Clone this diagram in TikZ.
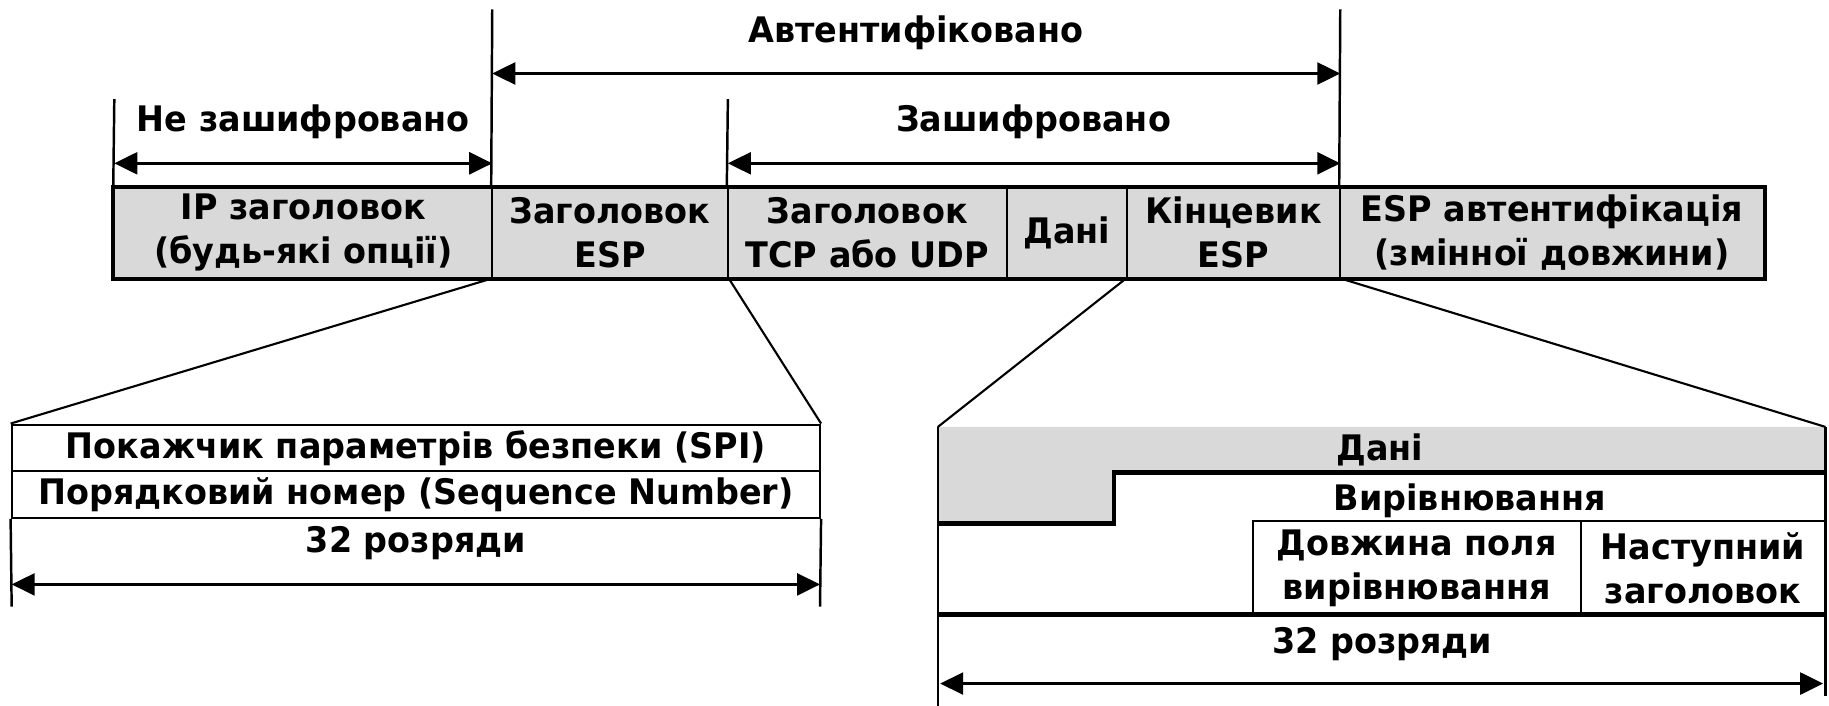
\documentclass[tikz,border=0pt]{standalone}
\usepackage{fontspec}
\setmainfont{DejaVu Sans}[FakeStretch=0.95]
\usetikzlibrary{arrows.meta}

\def\px{0.011665cm}
\definecolor{cellgray}{RGB}{217,217,217}
\tikzset{
  cell/.style={draw=black,line width=0.6pt,fill=cellgray,align=center,inner sep=0pt,minimum height=77*\px},
  box/.style={draw=black,line width=0.6pt,align=center,inner sep=0pt},
  lbl/.style={align=center,inner sep=0pt},
  span/.style={{Triangle[length=0.23cm,width=0.22cm]}-{Triangle[length=0.23cm,width=0.22cm]},line width=0.7pt},
  rule/.style={line width=0.7pt},
  zoomline/.style={line width=0.6pt},
  heavy/.style={line width=1.3pt},
}

\begin{document}
\begin{tikzpicture}[x=\px,y=-\px,font=\fontsize{10}{12.6}\selectfont\bfseries]
\useasboundingbox (0,0) rectangle (1568,605);

% packet
\node[cell,minimum width=324*\px] (ip) at (260,199.5) {IP заголовок\\(будь-які опції)};
\node[cell,minimum width=202*\px] (esph) at (523,199.5) {Заголовок\\ESP};
\node[cell,minimum width=239*\px] (tcp) at (743.5,199.5) {Заголовок\\TCP або UDP};
\node[cell,minimum width=103*\px] (data) at (914.5,199.5) {Дані};
\node[cell,minimum width=183*\px] (trail) at (1057.5,199.5) {Кінцевик\\ESP};
\node[cell,minimum width=363*\px] (auth) at (1330.5,199.5) {ESP автентифікація\\(змінної довжини)};
\draw[line width=1.2pt] (ip.north west) rectangle (auth.south east);

% spans above the packet
\coordinate (authtop) at (422,8);
\coordinate (authend) at (1149,8);
\coordinate (plaintop) at (98,85);
\coordinate (enctop) at (624,85);
\draw[rule] (authtop) -- (esph.north west);
\draw[rule] (authend) -- (auth.north west);
\draw[rule] (plaintop) -- (ip.north west);
\draw[rule] (enctop) -- (tcp.north west);

\node[lbl] (authlbl) at (785,28) {Автентифіковано};
\coordinate (authL) at (422,63);
\coordinate (authR) at (1149,63);
\draw[span] (authL) -- (authR);

\node[lbl] (plainlbl) at (260,104) {Не зашифровано};
\coordinate (plainL) at (98,140);
\coordinate (plainR) at (422,140);
\draw[span] (plainL) -- (plainR);

\node[lbl] (enclbl) at (886,104) {Зашифровано};
\coordinate (encL) at (624,140);
\coordinate (encR) at (1149,140);
\draw[span] (encL) -- (encR);

% ESP header detail
\node[box,minimum width=693*\px,minimum height=40*\px] (spi) at (356.5,384) {Покажчик параметрів безпеки (SPI)};
\node[box,minimum width=693*\px,minimum height=40*\px] (seq) at (356.5,424) {Порядковий номер (Sequence Number)};
\node[lbl] (bitsL) at (356.5,466) {32 розряди};
\coordinate (hdrLB) at (10,520);
\coordinate (hdrRB) at (703,520);
\draw[rule] (seq.south west) -- (hdrLB);
\draw[rule] (seq.south east) -- (hdrRB);
\coordinate (hdrL) at (10,501);
\coordinate (hdrR) at (703,501);
\draw[span] (hdrL) -- (hdrR);
\draw[zoomline] (esph.south west) -- (spi.north west);
\draw[zoomline] (esph.south east) -- (spi.north east);

% ESP trailer detail
\fill[cellgray] (804,366) -- (1565,366) -- (1565,405) -- (955,405) -- (955,449) -- (804,449) -- cycle;
\draw[heavy] (804,449) -- (955,449) -- (955,405) -- (1565,405);
\node[lbl] (pay) at (1183,386) {Дані};
\node[lbl] (pad) at (1260,429) {Вирівнювання};
\node[box,minimum width=281*\px,minimum height=80*\px] (padlen) at (1214.5,487) {Довжина поля\\вирівнювання};
\node[box,minimum width=210*\px,minimum height=80*\px] (nexth) at (1460,487) {Наступний\\заголовок};
\draw[heavy] (804,527) -- (1565,527);
\node[lbl] (bitsR) at (1185,552) {32 розряди};
\coordinate (trlTL) at (804,366);
\coordinate (trlTR) at (1565,366);
\coordinate (trlBL) at (804,605);
\coordinate (trlBR) at (1565,597);
\draw[rule] (trlTL) -- (trlBL);
\draw[rule] (trlTR) -- (trlBR);
\coordinate (trlL) at (806,586);
\coordinate (trlR) at (1563,586);
\draw[span] (trlL) -- (trlR);
\draw[zoomline] (trail.south west) -- (trlTL);
\draw[zoomline] (trail.south east) -- (trlTR);
\end{tikzpicture}
\end{document}
